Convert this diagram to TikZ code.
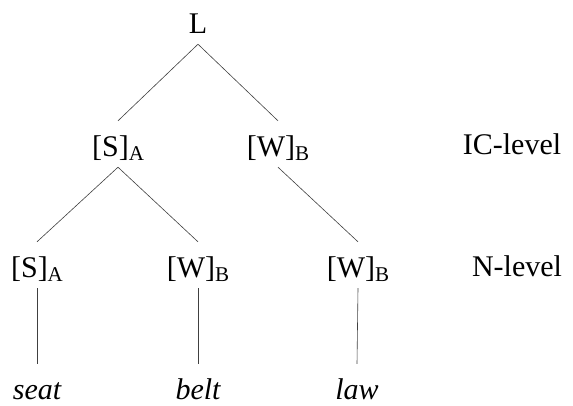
\documentclass[tikz,border=0pt]{standalone}
\usepackage{fontspec}
\setmainfont{Liberation Serif}
\newcommand{\lvlsub}[1]{\raisebox{-4pt}{\fontsize{21}{21}\selectfont #1}}
\begin{document}
\begin{tikzpicture}[x=1pt,y=-1pt,
  every node/.style={font=\fontsize{30}{36}\selectfont, text=black},
  tree/.style={anchor=base, text height=25pt, text depth=1pt, inner ysep=10pt, inner xsep=0pt},
  lvl/.style={anchor=base, inner sep=0pt},
  edge/.style={draw=black!75, line width=0.6pt}]
\useasboundingbox (0,0) rectangle (573,405);
\node[tree] (L) at (198,33) {L};
\node[tree] (S1) at (118,156) {[S]\lvlsub{A}};
\node[tree] (W1) at (278,156) {[W]\lvlsub{B}};
\node[tree] (S2) at (37,277) {[S]\lvlsub{A}};
\node[tree] (W2) at (198,277) {[W]\lvlsub{B}};
\node[tree] (W3) at (358,277) {[W]\lvlsub{B}};
\node[tree] (seat) at (37,399) {\itshape seat};
\node[tree] (belt) at (198,399) {\itshape belt};
\node[tree] (law) at (357,399) {\itshape law};
\node[lvl] (ic) at (512,154) {IC-level};
\node[lvl] (nl) at (517,276) {N-level};
\draw[edge] (L.south) -- (S1.north);
\draw[edge] (L.south) -- (W1.north);
\draw[edge] (S1.south) -- (S2.north);
\draw[edge] (S1.south) -- (W2.north);
\draw[edge] (W1.south) -- (W3.north);
\draw[edge] (S2.south) -- (seat.north);
\draw[edge] (W2.south) -- (belt.north);
\draw[edge] (W3.south) -- (law.north);
\end{tikzpicture}
\end{document}
